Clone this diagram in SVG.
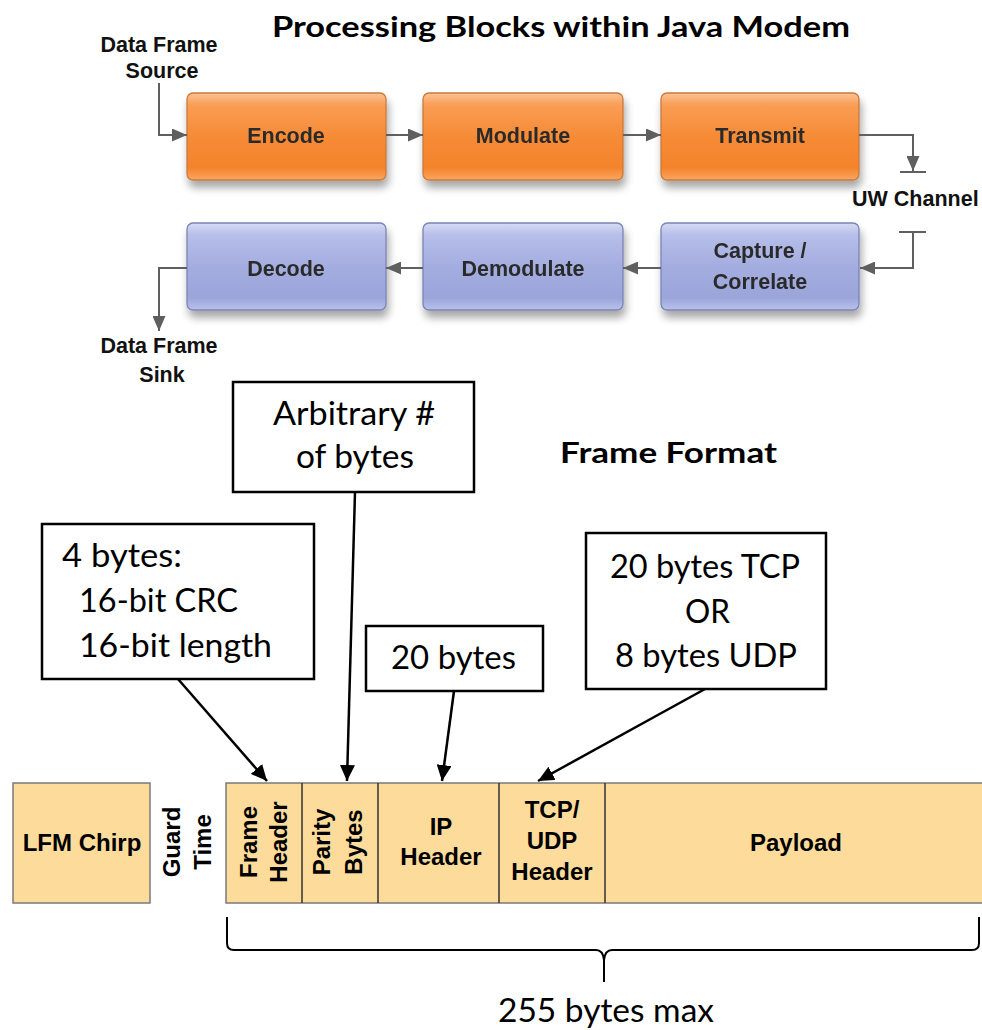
<svg xmlns="http://www.w3.org/2000/svg" width="982" height="1030" viewBox="0 0 982 1030">
<defs>
<style>
.title{font-family:Lato,"Open Sans",sans-serif;font-weight:bold;font-size:29px;fill:#000}
.lab{font-family:"Liberation Sans",Arial,sans-serif;font-weight:bold;font-size:21.5px;fill:#111}
.blk{font-family:"Liberation Sans",Arial,sans-serif;font-weight:bold;font-size:21.5px;fill:#2b2b2b;text-anchor:middle}
.cal{font-family:Lato,"Open Sans",sans-serif;font-size:32px;fill:#000}
.fr{font-family:"Liberation Sans",Arial,sans-serif;font-weight:bold;font-size:24px;fill:#000;text-anchor:middle}
.conn{fill:none;stroke:#5f5f5f;stroke-width:2}
.blk-conn{fill:none;stroke:#000;stroke-width:2.5}
.box{fill:#fff;stroke:#000;stroke-width:2.5}
.orange{fill:url(#gOr);stroke:#c97a3e;stroke-width:1.3}
.blue{fill:url(#gBl);stroke:#7a84b5;stroke-width:1.3}
.cell{fill:#fddb9b;stroke:#7a7a7a;stroke-width:1.5}
.div{stroke:#333;stroke-width:1.5}
</style>
<linearGradient id="gOr" x1="0" y1="0" x2="0" y2="1">
<stop offset="0" stop-color="#fcc394"/>
<stop offset="0.14" stop-color="#f99d55"/>
<stop offset="0.5" stop-color="#f68b36"/>
<stop offset="0.86" stop-color="#f4832b"/>
<stop offset="1" stop-color="#f9a862"/>
</linearGradient>
<linearGradient id="gBl" x1="0" y1="0" x2="0" y2="1">
<stop offset="0" stop-color="#d6dbf4"/>
<stop offset="0.14" stop-color="#b6bee9"/>
<stop offset="0.5" stop-color="#a4addf"/>
<stop offset="0.86" stop-color="#9ba5da"/>
<stop offset="1" stop-color="#b9c1ea"/>
</linearGradient>
<filter id="sh" x="-10%" y="-10%" width="120%" height="140%">
<feGaussianBlur in="SourceAlpha" stdDeviation="4"/>
<feOffset dx="2" dy="7" result="b"/>
<feComponentTransfer><feFuncA type="linear" slope="0.35"/></feComponentTransfer>
<feMerge><feMergeNode/><feMergeNode in="SourceGraphic"/></feMerge>
</filter>
<marker id="ag" markerUnits="userSpaceOnUse" markerWidth="15" markerHeight="13" viewBox="0 0 15 13" refX="15" refY="6.5" orient="auto">
<path d="M0,0 L15,6.5 L0,13 z" fill="#5f5f5f"/>
</marker>
<marker id="ab" markerUnits="userSpaceOnUse" markerWidth="16" markerHeight="15" viewBox="0 0 16 15" refX="16" refY="7.5" orient="auto">
<path d="M0,0 L16,7.5 L0,15 z" fill="#000"/>
</marker>
</defs>
<rect width="982" height="1030" fill="#fff"/>

<text class="title" x="272" y="37" textLength="578" lengthAdjust="spacingAndGlyphs">Processing Blocks within Java Modem</text>

<g id="source-label">
<text class="lab" x="159" y="52" text-anchor="middle">Data Frame</text>
<text class="lab" x="162" y="78" text-anchor="middle">Source</text>
</g>
<g id="sink-label">
<text class="lab" x="159" y="353" text-anchor="middle">Data Frame</text>
<text class="lab" x="162" y="382" text-anchor="middle">Sink</text>
</g>
<g id="uw-channel">
<text class="lab" x="852" y="206">UW Channel</text>
<line x1="900" y1="172" x2="926" y2="172" stroke="#5f5f5f" stroke-width="2"/>
<line x1="899" y1="232" x2="926" y2="232" stroke="#5f5f5f" stroke-width="2"/>
</g>

<g id="encode" filter="url(#sh)"><rect class="orange" x="187" y="93" width="199" height="87" rx="6"/><text class="blk" x="286" y="143">Encode</text></g>
<g id="modulate" filter="url(#sh)"><rect class="orange" x="423" y="93" width="200" height="87" rx="6"/><text class="blk" x="523" y="143">Modulate</text></g>
<g id="transmit" filter="url(#sh)"><rect class="orange" x="661" y="93" width="198" height="87" rx="6"/><text class="blk" x="760" y="143">Transmit</text></g>
<g id="decode" filter="url(#sh)"><rect class="blue" x="187" y="223" width="199" height="87" rx="6"/><text class="blk" x="286" y="276">Decode</text></g>
<g id="demodulate" filter="url(#sh)"><rect class="blue" x="423" y="223" width="200" height="87" rx="6"/><text class="blk" x="523" y="276">Demodulate</text></g>
<g id="capture" filter="url(#sh)"><rect class="blue" x="661" y="223" width="198" height="87" rx="6"/><text class="blk" x="760" y="258">Capture /</text><text class="blk" x="760" y="289">Correlate</text></g>

<g id="connectors">
<path class="conn" d="M159,83 V135 H187" marker-end="url(#ag)"/>
<path class="conn" d="M386,135 H423" marker-end="url(#ag)"/>
<path class="conn" d="M623,135 H661" marker-end="url(#ag)"/>
<path class="conn" d="M859,135 H913 V171" marker-end="url(#ag)"/>
<path class="conn" d="M913,232 V268 H860" marker-end="url(#ag)"/>
<path class="conn" d="M661,268 H623" marker-end="url(#ag)"/>
<path class="conn" d="M423,268 H386" marker-end="url(#ag)"/>
<path class="conn" d="M187,268 H159 V331" marker-end="url(#ag)"/>
<line class="blk-conn" x1="178" y1="679" x2="267" y2="781" marker-end="url(#ab)"/>
<line class="blk-conn" x1="355" y1="492" x2="347" y2="781" marker-end="url(#ab)"/>
<line class="blk-conn" x1="454" y1="691" x2="442" y2="781" marker-end="url(#ab)"/>
<line class="blk-conn" x1="705" y1="689" x2="538" y2="781" marker-end="url(#ab)"/>
</g>

<text class="title" x="560" y="463" font-size="27" textLength="217" lengthAdjust="spacingAndGlyphs">Frame Format</text>

<g id="callout-arbitrary">
<rect class="box" x="233" y="382" width="241" height="110"/>
<text class="cal" x="273" y="425" textLength="162" lengthAdjust="spacingAndGlyphs">Arbitrary #</text>
<text class="cal" x="296" y="468" textLength="118" lengthAdjust="spacingAndGlyphs">of bytes</text>
</g>
<g id="callout-frameheader">
<rect class="box" x="42" y="524" width="272" height="155"/>
<text class="cal" x="62" y="567" textLength="120" lengthAdjust="spacingAndGlyphs">4 bytes:</text>
<text class="cal" x="79" y="612" textLength="159" lengthAdjust="spacingAndGlyphs">16-bit CRC</text>
<text class="cal" x="79" y="657" textLength="193" lengthAdjust="spacingAndGlyphs">16-bit length</text>
</g>
<g id="callout-ip">
<rect class="box" x="366" y="626" width="177" height="65"/>
<text class="cal" x="391" y="669" textLength="125" lengthAdjust="spacingAndGlyphs">20 bytes</text>
</g>
<g id="callout-tcp">
<rect class="box" x="586" y="533" width="240" height="156"/>
<text class="cal" x="610" y="578" textLength="190" lengthAdjust="spacingAndGlyphs">20 bytes TCP</text>
<text class="cal" x="685" y="623" textLength="45" lengthAdjust="spacingAndGlyphs">OR</text>
<text class="cal" x="615" y="667" textLength="182" lengthAdjust="spacingAndGlyphs">8 bytes UDP</text>
</g>

<g id="lfm-chirp">
<rect class="cell" x="13" y="783" width="137" height="120"/>
<text class="fr" x="82" y="851">LFM Chirp</text>
</g>
<g id="guard-time">
<text class="fr" transform="translate(180,842) rotate(-90)">Guard</text>
<text class="fr" transform="translate(211,842) rotate(-90)">Time</text>
</g>
<g id="frame">
<rect class="cell" x="226" y="783" width="760" height="120"/>
<line class="div" x1="302" y1="783" x2="302" y2="903"/>
<line class="div" x1="378" y1="783" x2="378" y2="903"/>
<line class="div" x1="499" y1="783" x2="499" y2="903"/>
<line class="div" x1="605" y1="783" x2="605" y2="903"/>
<text class="fr" transform="translate(257,842) rotate(-90)">Frame</text>
<text class="fr" transform="translate(287,842) rotate(-90)">Header</text>
<text class="fr" transform="translate(330,842) rotate(-90)">Parity</text>
<text class="fr" transform="translate(362,842) rotate(-90)">Bytes</text>
<text class="fr" x="441" y="835">IP</text>
<text class="fr" x="441" y="865">Header</text>
<text class="fr" x="552" y="818">TCP/</text>
<text class="fr" x="552" y="849">UDP</text>
<text class="fr" x="552" y="880">Header</text>
<text class="fr" x="796" y="851">Payload</text>
</g>

<g id="brace">
<path d="M227,917 V943 Q227,950 234,950 H596 Q603,950 604,960 V982 M979,917 V943 Q979,950 972,950 H612 Q605,950 604,960" fill="none" stroke="#000" stroke-width="2"/>
<text class="cal" x="498" y="1022" textLength="216" lengthAdjust="spacingAndGlyphs">255 bytes max</text>
</g>
</svg>
